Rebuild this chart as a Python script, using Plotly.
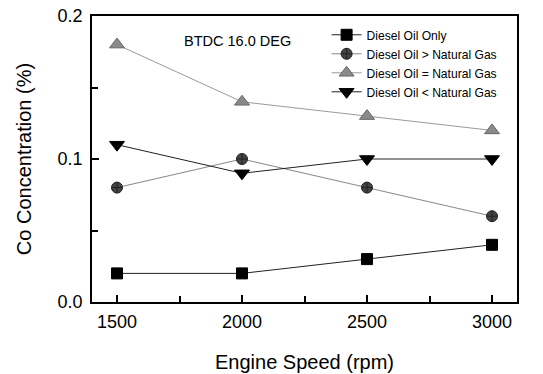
import plotly.graph_objects as go

speed = [1500, 2000, 2500, 3000]
diesel_only = [0.02, 0.02, 0.03, 0.04]
diesel_gt_ng = [0.08, 0.10, 0.08, 0.06]
diesel_eq_ng = [0.18, 0.14, 0.13, 0.12]
diesel_lt_ng = [0.11, 0.09, 0.10, 0.10]

names = ["Diesel Oil Only", "Diesel Oil > Natural Gas",
         "Diesel Oil = Natural Gas", "Diesel Oil < Natural Gas"]
series = [diesel_only, diesel_gt_ng, diesel_eq_ng, diesel_lt_ng]
symbols = ["square", "circle-cross", "triangle-up", "triangle-down"]
mcolors = ["#000000", "#444444", "#8a8a8a", "#000000"]
mline = ["#000000", "#222222", "#666666", "#000000"]
lcolors = ["#222222", "#888888", "#9a9a9a", "#222222"]
sizes = [11, 11, 13, 13]

fig = go.Figure()
for n, s, sym, mc, ml, lc, sz in zip(names, series, symbols, mcolors, mline, lcolors, sizes):
    fig.add_trace(go.Scatter(
        x=speed, y=s, name=n, mode="lines+markers",
        line=dict(color=lc, width=1),
        marker=dict(symbol=sym, size=sz, color=mc, line=dict(color=ml, width=1)),
    ))

fig.add_annotation(x=0.212, y=0.913, xref="paper", yref="paper", text="BTDC 16.0 DEG",
                   showarrow=False, xanchor="left", yanchor="middle",
                   font=dict(size=14.5, color="#000000"))

fig.update_layout(
    width=543, height=374,
    margin=dict(l=92, r=26, t=16, b=72),
    paper_bgcolor="white", plot_bgcolor="white",
    font=dict(family="Liberation Sans, Arial, sans-serif", color="#000000"),
    legend=dict(x=0.552, y=0.985, xanchor="left", yanchor="top",
                bgcolor="rgba(0,0,0,0)", font=dict(size=12.1), tracegroupgap=0,
                itemwidth=30),
    showlegend=True,
)
fig.update_xaxes(range=[1400, 3100], tickvals=speed, ticks="inside", ticklen=7,
                 tickwidth=1.5, tickcolor="black", showline=True, linecolor="black",
                 linewidth=1.5, mirror=True, showgrid=False, zeroline=False,
                 automargin=False, tickfont=dict(size=18), ticklabelstandoff=3,
                 title=dict(text="Engine Speed (rpm)", font=dict(size=20), standoff=24),
                 minor=dict(tickvals=[1750, 2250, 2750], ticks="inside", ticklen=6,
                            tickcolor="black", showgrid=False))
fig.update_yaxes(range=[0, 0.2], tickvals=[0, 0.1, 0.2], ticktext=["0.0", "0.1", "0.2"],
                 ticks="inside", ticklen=7, tickwidth=1.5, tickcolor="black",
                 showline=True, linecolor="black", linewidth=1.5, mirror=True,
                 showgrid=False, zeroline=False, automargin=False, tickfont=dict(size=18),
                 ticklabelstandoff=4,
                 title=dict(text="Co Concentration (%)", font=dict(size=20), standoff=21),
                 minor=dict(tickvals=[0.05, 0.15], ticks="inside", ticklen=6,
                            tickcolor="black", showgrid=False))

fig.write_html("out.html", config={"displayModeBar": False},
               post_script="document.body.style.margin='0';document.body.style.overflow='hidden';")
